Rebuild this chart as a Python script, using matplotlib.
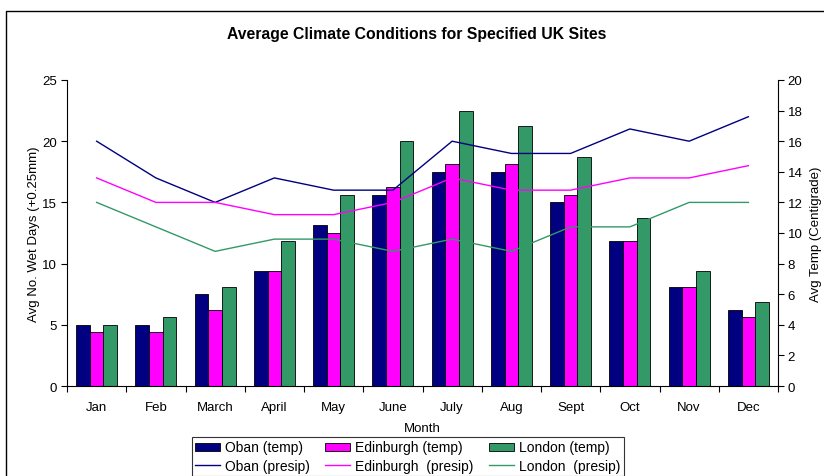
import numpy as np
import matplotlib.pyplot as plt
from matplotlib.patches import Rectangle
from matplotlib.lines import Line2D

plt.rcParams['font.family'] = ['Liberation Sans', 'DejaVu Sans']

months = ['Jan', 'Feb', 'March', 'April', 'May', 'June',
          'July', 'Aug', 'Sept', 'Oct', 'Nov', 'Dec']

# average temperature (Centigrade) - bars, right axis
oban_temp = [4, 4, 6, 7.5, 10.5, 12.5, 14, 14, 12, 9.5, 6.5, 5]
edin_temp = [3.5, 3.5, 5, 7.5, 10, 13, 14.5, 14.5, 12.5, 9.5, 6.5, 4.5]
london_temp = [4, 4.5, 6.5, 9.5, 12.5, 16, 18, 17, 15, 11, 7.5, 5.5]

# average number of wet days - lines, left axis
oban_wet = [20, 17, 15, 17, 16, 16, 20, 19, 19, 21, 20, 22]
edin_wet = [17, 15, 15, 14, 14, 15, 17, 16, 16, 17, 17, 18]
london_wet = [15, 13, 11, 12, 12, 11, 12, 11, 13, 13, 15, 15]

navy = '#000080'
magenta = '#FF00FF'
green = '#339966'

fig = plt.figure(figsize=(8.24, 4.77), dpi=100)

# outer chart border (runs off the right and bottom edge)
fig.patches.append(Rectangle((6 / 824, -0.2), 1.2, 1.2 - 12 / 477,
                             transform=fig.transFigure, fill=False,
                             edgecolor='black', linewidth=1.0, clip_on=False))

ax = fig.add_axes([67 / 824, 1 - 387 / 477, (778 - 67) / 824, (387 - 81) / 477])
x = np.arange(len(months))
w = 0.23
ax.bar(x - w, oban_temp, w, color=navy, edgecolor='black', linewidth=0.6)
ax.bar(x, edin_temp, w, color=magenta, edgecolor='black', linewidth=0.6)
ax.bar(x + w, london_temp, w, color=green, edgecolor='black', linewidth=0.6)
ax.set_ylim(0, 20)
ax.set_yticks(np.arange(0, 21, 2))
ax.set_xlim(-0.5, 11.5)

ax2 = ax.twinx()
ax2.plot(x, oban_wet, color=navy, linewidth=1.0)
ax2.plot(x, edin_wet, color=magenta, linewidth=1.0)
ax2.plot(x, london_wet, color=green, linewidth=1.0)
ax2.set_ylim(0, 25)
ax2.set_yticks(np.arange(0, 26, 5))

# temperature scale on the right, wet days on the left (twinx resets these)
ax.yaxis.tick_right()
ax.yaxis.set_label_position('right')
ax2.yaxis.tick_left()
ax2.yaxis.set_label_position('left')

ax.set_ylabel('Avg Temp (Centigrade)', fontsize=9.5, labelpad=5)
ax2.set_ylabel('Avg No. Wet Days (+0.25mm)', fontsize=9.5, labelpad=2)

ax.spines['top'].set_visible(False)
for s in ['left', 'right', 'bottom']:
    ax.spines[s].set_linewidth(0.8)
for s in ax2.spines.values():
    s.set_visible(False)

ax.set_xticks(x)
ax.set_xticklabels(months, fontsize=9.5)
ax.set_xticks(np.arange(-0.5, 12, 1), minor=True)
ax.tick_params(axis='x', which='major', length=0, pad=11)
ax.tick_params(axis='x', which='minor', length=4, width=0.8, direction='out')
ax.tick_params(axis='y', length=4, width=0.8, direction='out', labelsize=9.5, pad=3)
ax2.tick_params(axis='y', length=4, width=0.8, direction='out', labelsize=9.5, pad=3)
ax.set_xlabel('Month', fontsize=9.5, labelpad=6)

fig.text(417 / 824, 1 - 35 / 477, 'Average Climate Conditions for Specified UK Sites',
         ha='center', va='center', fontsize=11.3, fontweight='bold')

handles = [
    Rectangle((0, 0), 1, 1, facecolor=navy, edgecolor='black', linewidth=0.6),
    Line2D([], [], color=navy, linewidth=1.0),
    Rectangle((0, 0), 1, 1, facecolor=magenta, edgecolor='black', linewidth=0.6),
    Line2D([], [], color=magenta, linewidth=1.0),
    Rectangle((0, 0), 1, 1, facecolor=green, edgecolor='black', linewidth=0.6),
    Line2D([], [], color=green, linewidth=1.0),
]
labels = ['Oban (temp)', 'Oban (presip)', 'Edinburgh (temp)', 'Edinburgh  (presip)',
          'London (temp)', 'London  (presip)']
leg = fig.legend(handles, labels, ncol=3, loc='upper left',
                 bbox_to_anchor=(192 / 824, 1 - 438 / 477), fontsize=10,
                 frameon=True, fancybox=False, handlelength=1.8, handleheight=0.5,
                 handletextpad=0.35, columnspacing=1.1, labelspacing=0.3,
                 borderpad=0.25, borderaxespad=0)
leg.get_frame().set_edgecolor('black')
leg.get_frame().set_linewidth(0.8)

fig.savefig('out.png', dpi=100)
